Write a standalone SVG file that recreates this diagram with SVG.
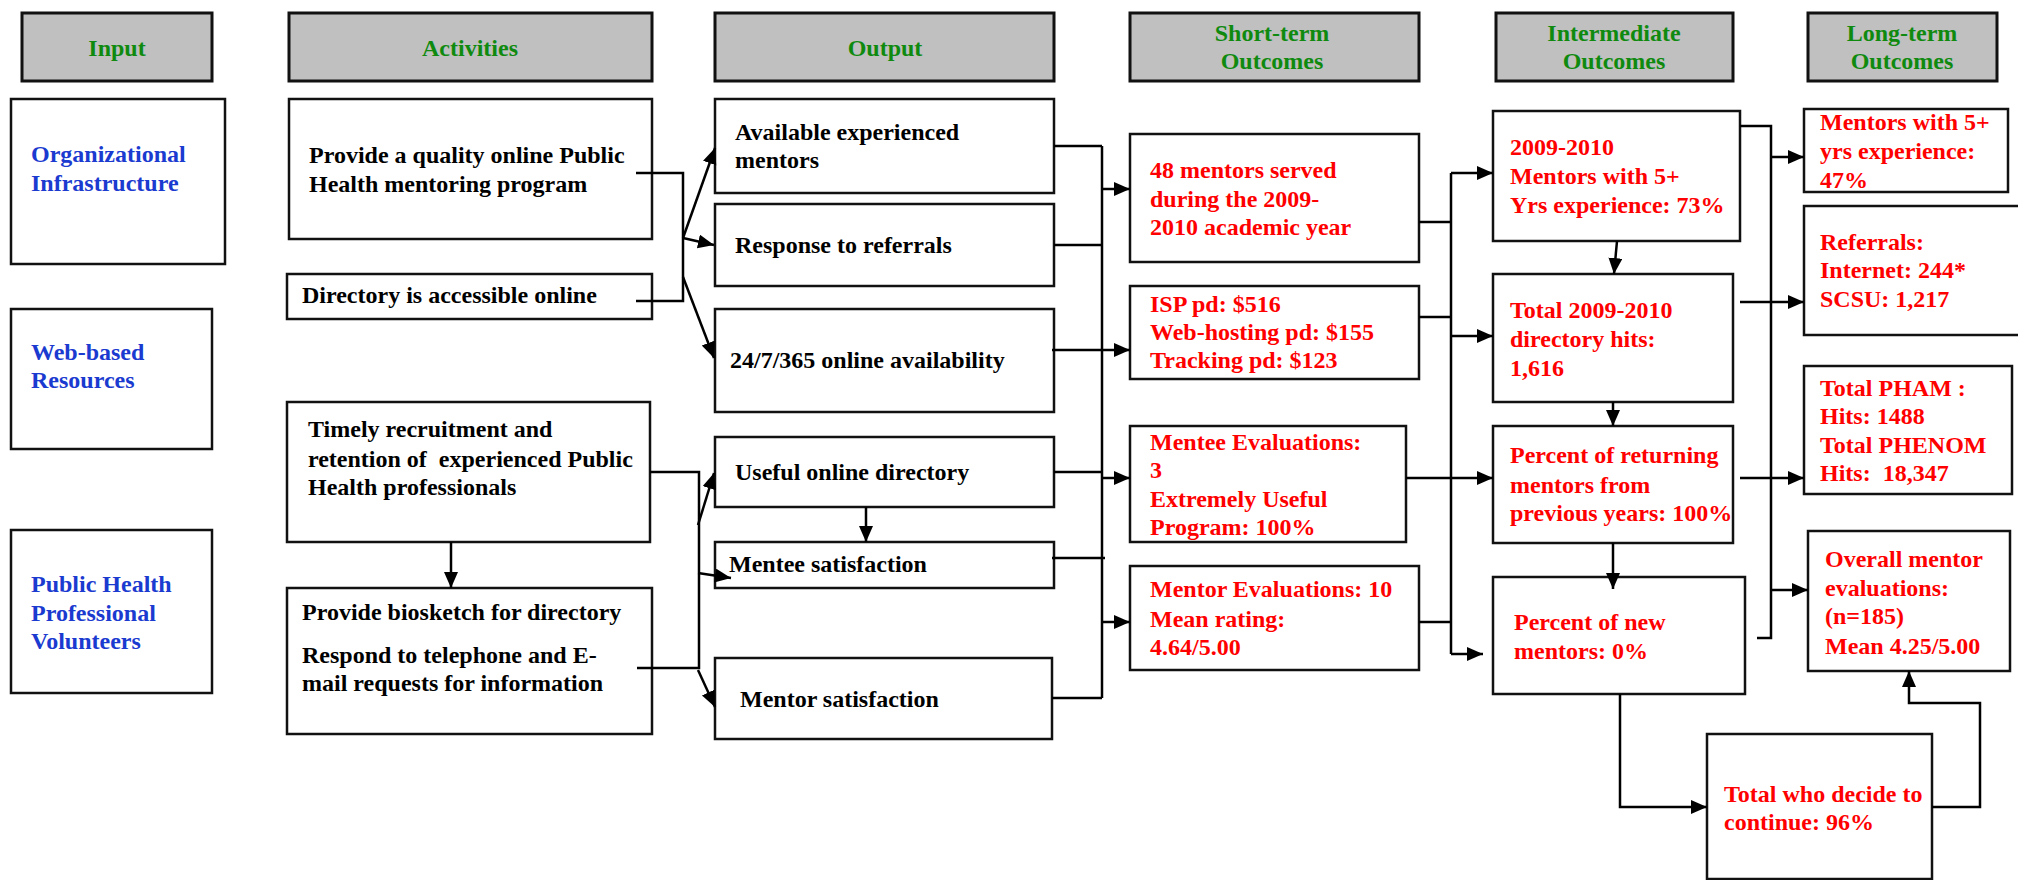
<svg xmlns="http://www.w3.org/2000/svg" width="2018" height="880" viewBox="0 0 2018 880">
<defs>
<marker id="ah" markerUnits="userSpaceOnUse" markerWidth="18" markerHeight="16" refX="16" refY="7" orient="auto">
<path d="M0,0 L16,7 L0,14 z" fill="#000"/>
</marker>
<style>
.box{fill:#fff;stroke:#111;stroke-width:2.5}
.hdr{fill:#c0c0c0;stroke:#111;stroke-width:3}
text{font-family:"Liberation Serif","Times New Roman",serif;font-weight:bold;font-size:24px}
.h{fill:#0f8a0f;text-anchor:middle}
.b{fill:#1a3ad0}
.k{fill:#000}
.r{fill:#ff0000}
.c{fill:none;stroke:#000;stroke-width:2.5}
.a{fill:none;stroke:#000;stroke-width:2.5;marker-end:url(#ah)}
</style>
</defs>
<rect width="2018" height="880" fill="#fff"/>

<g id="hdr-input"><rect class="hdr" x="22" y="13" width="190" height="68"/><text class="h" x="117" y="56">Input</text></g>
<g id="hdr-activities"><rect class="hdr" x="289" y="13" width="363" height="68"/><text class="h" x="470" y="56">Activities</text></g>
<g id="hdr-output"><rect class="hdr" x="715" y="13" width="339" height="68"/><text class="h" x="885" y="56">Output</text></g>
<g id="hdr-short"><rect class="hdr" x="1130" y="13" width="289" height="68"/><text class="h" x="1272" y="41">Short-term</text><text class="h" x="1272" y="69">Outcomes</text></g>
<g id="hdr-inter"><rect class="hdr" x="1496" y="13" width="237" height="68"/><text class="h" x="1614" y="41">Intermediate</text><text class="h" x="1614" y="69">Outcomes</text></g>
<g id="hdr-long"><rect class="hdr" x="1808" y="13" width="189" height="68"/><text class="h" x="1902" y="41">Long-term</text><text class="h" x="1902" y="69">Outcomes</text></g>

<g id="in-org"><rect class="box" x="11" y="99" width="214" height="165"/><text class="b" x="31" y="162">Organizational</text><text class="b" x="31" y="191">Infrastructure</text></g>
<g id="in-web"><rect class="box" x="11" y="309" width="201" height="140"/><text class="b" x="31" y="360">Web-based</text><text class="b" x="31" y="388">Resources</text></g>
<g id="in-ph"><rect class="box" x="11" y="530" width="201" height="163"/><text class="b" x="31" y="592">Public Health</text><text class="b" x="31" y="621">Professional</text><text class="b" x="31" y="649">Volunteers</text></g>

<g id="act-quality"><rect class="box" x="289" y="99" width="363" height="140"/><text class="k" x="309" y="163">Provide a quality online Public</text><text class="k" x="309" y="192">Health mentoring program</text></g>
<g id="act-directory"><rect class="box" x="287" y="274" width="365" height="45"/><text class="k" x="302" y="303">Directory is accessible online</text></g>
<g id="act-recruit"><rect class="box" x="287" y="402" width="363" height="140"/><text class="k" x="308" y="437">Timely recruitment and</text><text class="k" x="308" y="467" xml:space="preserve">retention of  experienced Public</text><text class="k" x="308" y="495">Health professionals</text></g>
<g id="act-biosketch"><rect class="box" x="287" y="588" width="365" height="146"/><text class="k" x="302" y="620">Provide biosketch for directory</text><text class="k" x="302" y="663">Respond to telephone and E-</text><text class="k" x="302" y="691">mail requests for information</text></g>

<g id="out-available"><rect class="box" x="715" y="99" width="339" height="94"/><text class="k" x="735" y="140">Available experienced</text><text class="k" x="735" y="168">mentors</text></g>
<g id="out-response"><rect class="box" x="715" y="204" width="339" height="82"/><text class="k" x="735" y="253">Response to referrals</text></g>
<g id="out-247"><rect class="box" x="715" y="309" width="339" height="103"/><text class="k" x="730" y="368">24/7/365 online availability</text></g>
<g id="out-useful"><rect class="box" x="715" y="437" width="339" height="70"/><text class="k" x="735" y="480">Useful online directory</text></g>
<g id="out-mentee"><rect class="box" x="715" y="542" width="339" height="46"/><text class="k" x="729" y="572">Mentee satisfaction</text></g>
<g id="out-mentor"><rect class="box" x="715" y="658" width="337" height="81"/><text class="k" x="740" y="707">Mentor satisfaction</text></g>

<g id="st-served"><rect class="box" x="1130" y="134" width="289" height="128"/><text class="r" x="1150" y="178">48 mentors served</text><text class="r" x="1150" y="207">during the 2009-</text><text class="r" x="1150" y="235">2010 academic year</text></g>
<g id="st-costs"><rect class="box" x="1130" y="286" width="289" height="93"/><text class="r" x="1150" y="312">ISP pd: $516</text><text class="r" x="1150" y="340">Web-hosting pd: $155</text><text class="r" x="1150" y="368">Tracking pd: $123</text></g>
<g id="st-mentee-eval"><rect class="box" x="1130" y="426" width="276" height="116"/><text class="r" x="1150" y="450">Mentee Evaluations:</text><text class="r" x="1150" y="478">3</text><text class="r" x="1150" y="507">Extremely Useful</text><text class="r" x="1150" y="535">Program: 100%</text></g>
<g id="st-mentor-eval"><rect class="box" x="1130" y="566" width="289" height="104"/><text class="r" x="1150" y="597">Mentor Evaluations: 10</text><text class="r" x="1150" y="627">Mean rating:</text><text class="r" x="1150" y="655">4.64/5.00</text></g>

<g id="im-exp"><rect class="box" x="1493" y="111" width="247" height="130"/><text class="r" x="1510" y="155">2009-2010</text><text class="r" x="1510" y="184">Mentors with 5+</text><text class="r" x="1510" y="213">Yrs experience: 73%</text></g>
<g id="im-hits"><rect class="box" x="1493" y="274" width="240" height="128"/><text class="r" x="1510" y="318">Total 2009-2010</text><text class="r" x="1510" y="347">directory hits:</text><text class="r" x="1510" y="376">1,616</text></g>
<g id="im-returning"><rect class="box" x="1493" y="426" width="240" height="117"/><text class="r" x="1510" y="463">Percent of returning</text><text class="r" x="1510" y="493">mentors from</text><text class="r" x="1510" y="521">previous years: 100%</text></g>
<g id="im-new"><rect class="box" x="1493" y="577" width="252" height="117"/><text class="r" x="1514" y="630">Percent of new</text><text class="r" x="1514" y="659">mentors: 0%</text></g>
<g id="im-continue"><rect class="box" x="1707" y="734" width="225" height="145"/><text class="r" x="1724" y="802">Total who decide to</text><text class="r" x="1724" y="830">continue: 96%</text></g>

<g id="lt-exp"><rect class="box" x="1804" y="109" width="204" height="83"/><text class="r" x="1820" y="130">Mentors with 5+</text><text class="r" x="1820" y="159">yrs experience:</text><text class="r" x="1820" y="188">47%</text></g>
<g id="lt-referrals"><rect class="box" x="1804" y="206" width="230" height="129"/><text class="r" x="1820" y="250">Referrals:</text><text class="r" x="1820" y="278">Internet: 244*</text><text class="r" x="1820" y="307">SCSU: 1,217</text></g>
<g id="lt-hits"><rect class="box" x="1804" y="366" width="208" height="128"/><text class="r" x="1820" y="396" xml:space="preserve">Total PHAM :</text><text class="r" x="1820" y="424">Hits: 1488</text><text class="r" x="1820" y="453">Total PHENOM</text><text class="r" x="1820" y="481" xml:space="preserve">Hits:  18,347</text></g>
<g id="lt-overall"><rect class="box" x="1808" y="531" width="202" height="140"/><text class="r" x="1825" y="567">Overall mentor</text><text class="r" x="1825" y="596">evaluations:</text><text class="r" x="1825" y="624">(n=185)</text><text class="r" x="1825" y="654">Mean 4.25/5.00</text></g>

<g id="connectors">
<path class="c" d="M636,173 H683 V301 H636"/>
<path class="a" d="M683,238 L715,148"/>
<path class="a" d="M683,238 L714,245"/>
<path class="a" d="M683,277 L714,358"/>
<path class="c" d="M650,472 H699 V668 H637"/>
<path class="a" d="M451,542 V588"/>
<path class="a" d="M698,525 L714,473"/>
<path class="a" d="M698,573 L731,578"/>
<path class="a" d="M698,670 L715,707"/>
<path class="a" d="M866,507 V542"/>
<path class="c" d="M1054,146 H1102 M1054,245 H1102 M1054,472 H1102 M1052,558 H1105 M1052,698 H1102 M1102,146 V698"/>
<path class="a" d="M1102,189 H1130"/>
<path class="a" d="M1052,350 H1130"/>
<path class="a" d="M1102,478 H1130"/>
<path class="a" d="M1102,622 H1130"/>
<path class="c" d="M1419,222 H1451 M1419,317 H1451 M1419,622 H1451 M1451,173 V654"/>
<path class="a" d="M1451,173 H1493"/>
<path class="a" d="M1451,336 H1493"/>
<path class="a" d="M1406,478 H1493"/>
<path class="a" d="M1451,654 H1483"/>
<path class="a" d="M1617,241 L1614,274"/>
<path class="a" d="M1613,402 V426"/>
<path class="a" d="M1613,543 V589"/>
<path class="a" d="M1620,694 V807 H1707"/>
<path class="a" d="M1932,807 H1980 V703 H1909 V671"/>
<path class="c" d="M1740,126 H1771 V638 H1757"/>
<path class="a" d="M1771,157 H1804"/>
<path class="a" d="M1740,302 H1804"/>
<path class="a" d="M1740,478 H1804"/>
<path class="a" d="M1771,590 H1808"/>
</g>
</svg>
